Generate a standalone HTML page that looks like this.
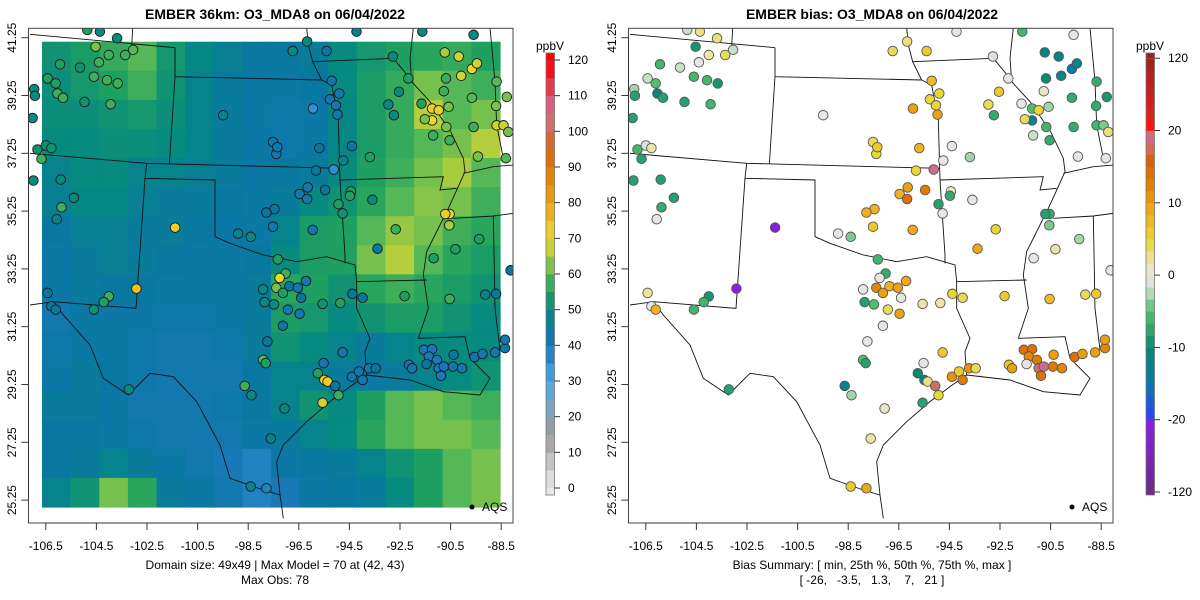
<!DOCTYPE html>
<html><head><meta charset="utf-8">
<style>
html,body{margin:0;padding:0;background:#fff;}
svg{display:block;font-family:"Liberation Sans",Arial,sans-serif;}
</style></head>
<body>
<svg id="chart" width="1200" height="600" viewBox="0 0 1200 600" xmlns="http://www.w3.org/2000/svg">
<defs>
<clipPath id="clipL"><rect x="28.5" y="28.3" width="484.5" height="494.7"/></clipPath>
<clipPath id="clipR"><rect x="628.5" y="28.3" width="484.5" height="494.7"/></clipPath>
</defs>
<text x="275" y="19" text-anchor="middle" font-size="14" font-weight="bold">EMBER 36km: O3_MDA8 on 06/04/2022</text>
<text x="872" y="19" text-anchor="middle" font-size="14" font-weight="bold">EMBER bias: O3_MDA8 on 06/04/2022</text>
<g id="leftPanel"></g>
<g id="rightPanel"></g>
<text x="275" y="569" text-anchor="middle" font-size="12">Domain size: 49x49 | Max Model = 70 at (42, 43)</text>
<text x="275" y="584" text-anchor="middle" font-size="12">Max Obs: 78</text>
<text x="872" y="569" text-anchor="middle" font-size="12">Bias Summary: [ min, 25th %, 50th %, 75th %, max ]</text>
<text x="872" y="584" text-anchor="middle" font-size="12" xml:space="preserve">[ -26,   -3.5,   1.3,    7,   21 ]</text>
</svg>
<script>
// ---------- data ----------
const xTicks = [-106.5,-104.5,-102.5,-100.5,-98.5,-96.5,-94.5,-92.5,-90.5,-88.5];
const yTicks = [41.25,39.25,37.25,35.25,33.25,31.25,29.25,27.25,25.25];
const obsTicks = [0,10,20,30,40,50,60,70,80,90,100,110,120];
const biasTicks = [-120,-20,-10,0,10,20,120];
// model field, coarse grid rows north->south, cols west->east (ppbV)
const gridVals = [
[52,54,57,60,53,49,47,45,45,46,50,53,55,56,57,55],
[51,53,55,58,52,48,46,44,44,45,50,54,57,62,60,58],
[51,51,52,53,51,48,46,44,43,44,49,54,57,66,60,62],
[50,50,51,51,50,48,46,44,43,44,49,54,57,60,62,66],
[48,50,50,48,48,47,46,44,45,46,50,55,58,62,65,60],
[47,49,49,47,46,46,45,44,46,50,52,56,60,63,62,58],
[45,47,47,46,46,45,44,44,48,54,55,60,64,62,58,56],
[44,46,47,46,45,44,44,45,50,54,55,62,66,60,56,54],
[44,46,45,45,44,44,44,46,56,55,52,56,58,56,54,52],
[42,44,44,44,43,43,44,46,54,53,50,52,54,54,52,50],
[43,44,44,43,42,42,43,46,52,50,48,46,48,50,50,50],
[44,46,45,43,42,42,42,45,48,48,46,44,46,48,50,52],
[46,46,44,42,42,42,43,45,48,52,50,55,60,62,60,58],
[45,45,44,43,42,42,42,44,46,48,50,56,60,62,62,60],
[45,46,48,46,44,42,40,38,44,45,46,48,52,55,60,62],
[48,52,62,56,46,44,42,38,40,44,45,46,50,55,60,62]];
const stationLon = [
-104.53,-104.01,-103.05,-103.36,-104.40,-105.94,-105.15,-106.43,-106.11,-104.60,
-104.08,-103.66,-106.04,-105.82,-104.97,-103.94,-106.96,-106.93,-107.02,-106.83,
-106.50,-106.28,-106.67,-106.99,-105.91,-105.39,-105.88,-106.07,-99.49,-96.74,
-96.17,-95.40,-94.22,-92.78,-92.17,-95.20,-94.90,-95.27,-95.03,-94.97,
-95.94,-92.54,-92.96,-92.74,-91.65,-91.23,-90.97,-91.23,-91.52,-90.58,
-90.73,-90.18,-89.66,-89.46,-90.08,-90.68,-90.77,-89.66,-89.59,-90.67,
-91.19,-90.54,-88.68,-88.28,-88.70,-88.68,-88.41,-88.22,-89.42,-88.32,
-89.59,-91.62,-97.52,-97.39,-97.35,-95.69,-94.40,-94.74,-93.69,-95.82,
-95.12,-96.15,-96.47,-96.17,-95.46,-94.44,-94.48,-93.59,-94.93,-94.77,
-97.46,-97.78,-97.52,-95.95,-98.90,-98.40,-101.39,-102.92,-92.67,-93.39,
-91.17,-90.31,-89.37,-90.54,-90.71,-90.55,-97.33,-97.02,-97.26,-97.39,
-96.87,-97.13,-97.91,-96.21,-96.54,-96.41,-97.85,-97.48,-96.93,-96.47,
-97.13,-95.56,-94.86,-94.38,-93.98,-92.32,-90.54,-89.13,-88.70,-97.74,
-97.91,-97.81,-98.64,-98.37,-103.22,-97.06,-97.61,-98.40,-97.78,-95.56,
-94.93,-94.77,-95.52,-95.75,-95.49,-95.36,-95.06,-94.40,-94.12,-93.98,
-93.72,-93.46,-92.15,-92.02,-91.56,-91.23,-91.36,-91.45,-91.04,-90.97,
-90.77,-90.88,-90.38,-90.41,-90.05,-89.55,-89.24,-88.74,-88.35,-88.35,
-88.13,-104.86,-104.36,-103.68,-106.43,-106.28,-106.11,-104.01,-104.21,-104.60];
const stationLat = [
40.94,40.65,40.83,40.65,40.40,40.33,40.22,39.84,39.67,39.90,
39.78,39.67,39.32,39.17,39.03,38.95,39.47,39.24,38.47,37.38,
37.52,37.43,37.06,36.31,36.34,35.71,35.38,34.97,38.57,40.79,
41.12,40.79,41.46,40.60,39.84,39.76,39.32,39.12,38.91,38.59,
38.80,39.38,38.94,38.57,38.97,38.80,38.74,38.39,38.43,38.86,
40.74,40.60,40.17,40.36,39.93,39.84,39.40,39.17,38.16,38.16,
37.87,37.70,39.73,39.20,38.89,38.22,38.22,37.99,37.14,37.08,
41.35,41.46,37.64,37.23,37.46,37.43,37.50,37.00,37.12,36.65,
36.69,36.07,35.84,35.67,35.98,35.93,35.78,35.64,35.49,35.17,
35.32,35.20,34.71,34.60,34.47,34.36,34.68,32.57,34.62,33.95,
33.62,33.93,34.28,35.15,35.15,34.76,33.58,33.09,32.94,32.60,
32.65,32.42,32.54,32.83,32.60,32.25,32.10,32.02,31.84,31.70,
31.28,32.04,32.07,32.39,32.25,32.31,32.21,32.36,32.39,30.74,
30.10,29.99,29.20,28.88,29.08,28.42,27.38,25.72,25.66,28.62,
28.88,30.36,29.99,29.64,29.41,29.35,29.20,29.52,29.70,29.41,
29.81,29.81,29.93,29.81,30.45,30.47,30.22,29.96,30.10,29.81,
29.87,29.55,30.28,29.87,29.81,30.20,30.31,30.36,30.51,30.80,
33.20,41.52,41.46,41.23,32.42,31.96,31.84,32.30,32.10,31.84];
const stationObs = [
62,58,60,58,58,55,52,55,55,58,
58,58,58,58,52,58,50,50,50,52,
52,52,58,50,50,50,58,48,48,50,
50,45,48,50,55,42,42,42,42,42,
35,50,50,50,55,72,72,70,62,62,
65,68,70,68,68,58,58,60,58,62,
58,58,60,62,62,68,68,62,62,60,
50,50,42,42,42,45,45,48,55,45,
35,42,42,42,45,55,55,50,55,52,
45,45,42,42,48,50,72,75,58,45,
55,55,55,70,72,65,55,58,70,62,
45,55,50,42,42,45,50,50,42,42,
45,52,55,45,45,55,58,48,45,45,
60,55,58,50,50,50,48,48,38,68,
58,42,42,55,72,72,45,42,42,42,
42,45,42,42,40,40,40,45,40,40,
40,40,45,42,42,42,42,42,42,42,
45,55,50,50,45,45,45,58,55,52];
const stationBias = [
-9,2,-2,4,0,-6,-2,-2,-5,-6,
-6,-9,-11,-8,-8,-6,-3,-8,-8,-6,
-1,2,-8,-8,-8,-8,-7,0,0,4,
3,6,0,-1,0,7,5,5,5,10,
10,6,4,-7,0,-5,5,-12,4,-3,
-11,-12,-15,-12,-12,-10,1,-7,-7,-6,
-2,-7,-7,-9,-7,-6,-4,3,0,0,
0,-6,4,5,6,8,0,0,-3,5,
20,10,8,14,13,1,-7,0,-8,0,
8,8,6,9,0,-4,-30,-28,5,9,
0,2,-3,-7,-8,-4,-6,-7,0,12,
8,10,0,9,10,0,-8,-5,4,10,
0,2,2,5,4,6,7,4,6,0,
-5,-8,-12,-3,-8,1,2,6,9,-8,
5,6,0,-10,-12,3,18,11,6,13,
11,4,6,10,14,14,12,0,13,18,
20,14,10,13,12,14,10,10,12,10,
0,-2,3,3,2,0,8,-9,-6,-6];

// ---------- colour scales ----------
const obsStops = [[0,'#e8e8e8'],[5,'#d2d2d2'],[10,'#b4b4b4'],[15,'#9a9a9a'],[20,'#8aa0b0'],[25,'#70a8d0'],[30,'#4aaae0'],[35,'#2e92d2'],[40,'#1878b8'],[45,'#0878a0'],[50,'#078a80'],[55,'#20a060'],[60,'#54b858'],[65,'#a8cc40'],[70,'#e8d830'],[75,'#f0c020'],[80,'#eca010'],[85,'#e89010'],[90,'#e07a00'],[95,'#d86010'],[100,'#d07050'],[105,'#d06a90'],[110,'#e05070'],[115,'#f02030'],[120,'#ff0000']];
const biasStops = [[-120,'#6a2a8a'],[-25,'#8a20e0'],[-20,'#3040ff'],[-15,'#0878a8'],[-10,'#088a70'],[-5,'#50c070'],[-2,'#c8e0c8'],[0,'#e6e6e6'],[2,'#ece4a0'],[5,'#e8d830'],[8,'#f0b020'],[10,'#eca010'],[13,'#e07a00'],[16,'#d86010'],[18,'#d07060'],[20,'#d06a90'],[22,'#e84050'],[25,'#ff1010'],[40,'#e02020'],[120,'#a02020']];
function hex(c){return [parseInt(c.substr(1,2),16),parseInt(c.substr(3,2),16),parseInt(c.substr(5,2),16)];}
function interp(stops,v){
  if(v<=stops[0][0])return stops[0][1];
  for(let i=1;i<stops.length;i++){
    if(v<=stops[i][0]){const a=stops[i-1],b=stops[i];const t=(v-a[0])/(b[0]-a[0]);const A=hex(a[1]),B=hex(b[1]);
      return 'rgb('+A.map((x,k)=>Math.round(x+(B[k]-x)*t)).join(',')+')';}
  }
  return stops[stops.length-1][1];
}
const obsColor=v=>interp(obsStops,v);
const biasColor=v=>interp(biasStops,v);

// ---------- axes ----------
const xOf=(lon,off)=>off+45.8+(lon+106.5)*25.3;
const yOf=lat=>37.7+(41.25-lat)*28.9;
const rasterX0=42,rasterX1=500,rasterY0=41.7,rasterY1=507;
const obsY=v=>488-(v/120)*428;
const biasY=v=>{let i=0;while(i<biasTicks.length-2&&v>biasTicks[i+1])i++;const a=biasTicks[i],b=biasTicks[i+1];const p=i+(v-a)/(b-a);return 492-p*72.3;};

const NS='http://www.w3.org/2000/svg';
function mk(tag,attrs,parent){const e=document.createElementNS(NS,tag);for(const k in attrs)e.setAttribute(k,attrs[k]);parent.appendChild(e);return e;}

const borderPaths = [
"M0,28 L435,68 M308,8 L305,68 M435,68 L435,155 L875,165 M875,165 L848,110 L835,60 L830,8 M848,110 L1090,100 L1140,160",
"M1150,8 L1140,100 L1145,170 L1200,230 L1262,320 L1300,400 L1305,440 L1278,500 L1255,550 L1230,600 L1190,680 L1180,750 L1195,850 L1165,940",
"M875,165 L905,180 L925,285 L930,465 L945,690 L945,715 M435,155 L418,418 M0,385 L350,415 L930,430",
"M350,415 L345,460 L555,465 L555,635 L600,655 L700,690 L800,710 L890,695 L975,720 L980,770 L1190,765",
"M345,460 L318,850 L70,830 L0,840",
"M70,830 L100,870 L180,960 L220,1060 L295,1110 L360,1045 L430,1055 L500,1130 L570,1260 L600,1360 L700,1395 L750,1410 L740,1310 L760,1260 L830,1190 L900,1130 L960,1085 L1010,1050 L1005,980 L1020,940 L980,850 L980,770",
"M1165,940 L1305,935 L1320,1000 L1380,1060 L1350,1110 L1240,1100 L1140,1065 L1010,1050",
"M930,465 L1240,455 L1230,495 L1280,490 M1300,445 L1390,425 L1450,420 M1270,580 L1390,573 L1450,565 M1390,573 L1395,850 L1410,975 M1380,8 L1395,170 L1400,300 L1420,400 M750,1410 L760,1480"
];

function drawPanel(pid,off,isBias){
  const g=document.getElementById(pid);
  const clip=mk('g',{'clip-path':'url(#'+(isBias?'clipR':'clipL')+')'},g);
  if(!isBias){
    const hm=mk('g',{},clip);
    
    
    const nr=gridVals.length,nc=gridVals[0].length;
    const cw=(rasterX1-rasterX0)/nc,ch=(rasterY1-rasterY0)/nr;
    gridVals.forEach((row,r)=>row.forEach((v,c)=>{
      const cell=mk('rect',{x:(rasterX0+c*cw).toFixed(2),y:(rasterY0+r*ch).toFixed(2),width:(cw+0.6).toFixed(2),height:(ch+0.6).toFixed(2),fill:obsColor(v)},hm);
      
      
    }));
  }
  const bm=mk('g',{transform:'translate('+(30+off)+',25) scale(0.33333)',fill:'none',stroke:'#111','stroke-width':'0.9'},clip);
  
  
  borderPaths.forEach(d=>mk('path',{d:d,'vector-effect':'non-scaling-stroke'},bm));
  const sg=mk('g',{},clip);
  
  
  stationLon.forEach((lon,i)=>{
    const v=isBias?stationBias[i]:stationObs[i];
    const c=mk('circle',{cx:xOf(lon,off).toFixed(1),cy:yOf(stationLat[i]).toFixed(1),r:4.8,fill:isBias?biasColor(v):obsColor(v),stroke:isBias?'#555':'#1a1a1a','stroke-width':'0.9'},sg);
    
    
  });
  const lg=mk('g',{},g);
  
  
  mk('circle',{cx:472+off,cy:507,r:2.5,fill:'#000'},lg);
  const lt=mk('text',{x:482+off,y:511,'font-size':'12'},lg);lt.textContent='AQS';
  const fr=mk('rect',{x:28.5+off,y:28.3,width:484.5,height:494.7,fill:'none',stroke:'#444','stroke-width':'1'},g);
  
  
  const xa=mk('g',{},g);
  
  
  mk('line',{x1:xOf(xTicks[0],off),x2:xOf(xTicks[xTicks.length-1],off),y1:523,y2:523,stroke:'#333'},xa);
  xTicks.forEach(t=>{const x=xOf(t,off);mk('line',{x1:x,x2:x,y1:523,y2:530,stroke:'#333'},xa);
    const tx=mk('text',{x:x,y:550,'text-anchor':'middle','font-size':'12'},xa);tx.textContent=t.toFixed(1);
    
    });
  const ya=mk('g',{},g);
  
  
  mk('line',{x1:28.5+off,x2:28.5+off,y1:yOf(yTicks[0]),y2:yOf(yTicks[yTicks.length-1]),stroke:'#333'},ya);
  yTicks.forEach(t=>{const y=yOf(t);mk('line',{x1:21.5+off,x2:28.5+off,y1:y,y2:y,stroke:'#333'},ya);
    const tx=mk('text',{x:0,y:0,'text-anchor':'middle','font-size':'12',transform:'translate('+(16+off)+','+y+') rotate(-90)'},ya);tx.textContent=t.toFixed(2);
    
    });
  const cb=mk('g',{},g);
  
  
  const cbx=546+off;
  if(!isBias){
    for(let v=0;v<120;v+=5){const y1=obsY(v+5),y0=obsY(v);mk('rect',{x:cbx,y:y1,width:8.5,height:y0-y1+0.4,fill:obsColor(v+2.5)},cb);}
    mk('rect',{x:cbx,y:53,width:8.5,height:obsY(120)-53,fill:obsColor(120)},cb);
    mk('rect',{x:cbx,y:obsY(0),width:8.5,height:495-obsY(0),fill:obsColor(0)},cb);
  } else {
    for(let i=0;i<biasTicks.length-1;i++){const a=biasTicks[i],b=biasTicks[i+1];
      for(let k=0;k<6;k++){const v0=a+(b-a)*k/6,v1=a+(b-a)*(k+1)/6;const y1=biasY(v1),y0=biasY(v0);
        mk('rect',{x:cbx,y:y1,width:8.5,height:y0-y1+0.4,fill:biasColor((v0+v1)/2)},cb);}}
    mk('rect',{x:cbx,y:53,width:8.5,height:biasY(120)-53,fill:biasColor(120)},cb);
    mk('rect',{x:cbx,y:biasY(-120),width:8.5,height:495-biasY(-120),fill:biasColor(-120)},cb);
  }
  mk('rect',{x:cbx,y:53,width:8.5,height:442,fill:'none',stroke:'#777','stroke-width':'0.8'},cb);
  const ticks=isBias?biasTicks:obsTicks, ty=isBias?biasY:obsY;
  ticks.forEach(t=>{const y=ty(t);mk('line',{x1:cbx+8.5,x2:cbx+14,y1:y,y2:y,stroke:'#333'},cb);
    const tx=mk('text',{x:cbx+22,y:y+4,'font-size':'12'},cb);tx.textContent=String(t);
    
    });
  const ut=mk('text',{x:cbx+4,y:50,'text-anchor':'middle','font-size':'12'},cb);ut.textContent='ppbV';
}
drawPanel('leftPanel',0,false);
drawPanel('rightPanel',600,true);
</script>
</body></html>
